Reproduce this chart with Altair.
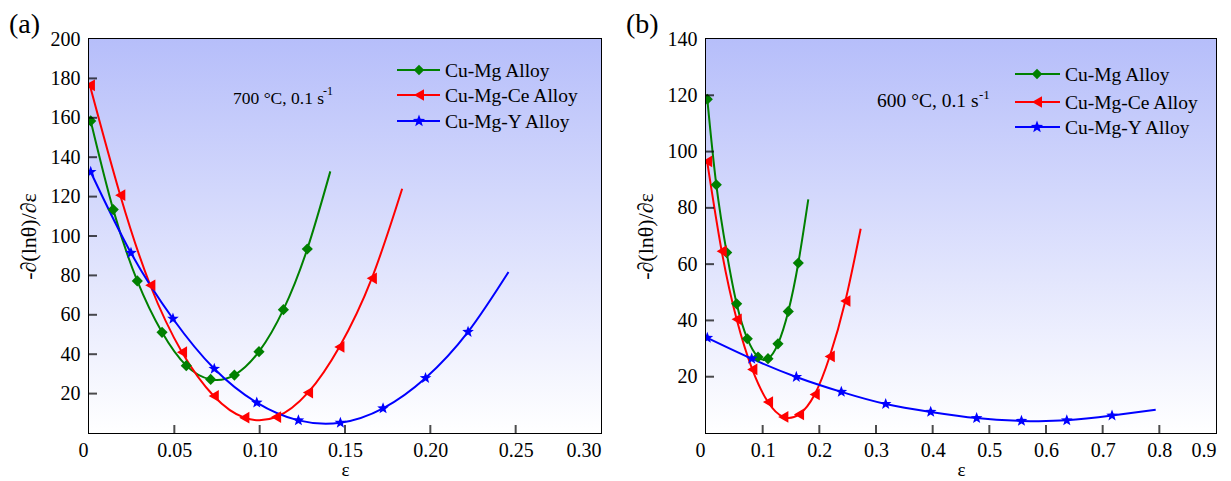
import math
import altair as alt
import pandas as pd

FONT = "Liberation Serif"
SERIES = ["Cu-Mg Alloy", "Cu-Mg-Ce Alloy", "Cu-Mg-Y Alloy"]
COLORS = ["#008000", "#ff0000", "#0000ff"]

# ---------------- panel (a): 700 °C, 0.1 s-1 ----------------
a_mg_x = [0.001, 0.0142, 0.0283, 0.0428, 0.0570, 0.0713, 0.0852, 0.0996, 0.1139, 0.1279]
a_mg_y = [158.4, 113.4, 77.2, 51.1, 34.2, 27.2, 29.4, 41.3, 62.6, 93.4]
a_mg_end = [0.1414, 132.8]
a_ce_x = [0.0005, 0.0183, 0.0359, 0.0545, 0.0731, 0.0910, 0.1096, 0.1283, 0.1467, 0.1657]
a_ce_y = [176.5, 120.7, 75.0, 41.0, 18.8, 7.8, 8.1, 20.5, 43.7, 78.5]
a_ce_end = [0.1835, 124.0]
a_y_x = [0.001, 0.0246, 0.0492, 0.0734, 0.0983, 0.1227, 0.1473, 0.1723, 0.1972, 0.2221]
a_y_y = [132.5, 91.4, 58.0, 32.6, 15.4, 6.4, 5.2, 12.5, 27.9, 51.3]
a_y_end = [0.2458, 81.7]
a_xticks = [0, 0.05, 0.10, 0.15, 0.20, 0.25, 0.30]
a_yticks = [20, 40, 60, 80, 100, 120, 140, 160, 180, 200]

# ---------------- panel (b): 600 °C, 0.1 s-1 ----------------
b_mg_x = [0.0023, 0.0182, 0.0365, 0.0541, 0.0729, 0.0918, 0.1094, 0.1270, 0.1452, 0.1629]
b_mg_y = [118.6, 88.2, 64.1, 45.9, 33.5, 27.0, 26.4, 31.7, 43.2, 60.4]
b_mg_end = [0.1805, 83.0]
b_ce_x = [0.0020, 0.0277, 0.0541, 0.0817, 0.1094, 0.1364, 0.1641, 0.1918, 0.2183, 0.2459]
b_ce_y = [96.5, 64.6, 40.4, 22.6, 11.0, 5.7, 6.6, 13.7, 27.2, 46.9]
b_ce_end = [0.2730, 72.6]
b_y_x = [0.0023, 0.0806, 0.1594, 0.2388, 0.3171, 0.3965, 0.4776, 0.5567, 0.6367, 0.7165]
b_y_y = [33.8, 26.4, 19.9, 14.6, 10.3, 7.5, 5.3, 4.3, 4.5, 6.2]
b_y_end = [0.7936, 8.3]
b_xticks = [0, 0.1, 0.2, 0.3, 0.4, 0.5, 0.6, 0.7, 0.8, 0.9]
b_yticks = [20, 40, 60, 80, 100, 120, 140]


def star_path(r_in=0.42):
    pts = []
    for k in range(10):
        r = 1.0 if k % 2 == 0 else r_in
        ang = math.radians(-90 + 36 * k)
        pts.append(f"{r * math.cos(ang):.3f},{r * math.sin(ang):.3f}")
    return "M" + "L".join(pts) + "Z"


SHAPES = ["diamond", "triangle-left", star_path()]
SIZES = [125, 150, 180]

GRAD = alt.Gradient(
    gradient="linear",
    stops=[alt.GradientStop(color="#b6befa", offset=0),
           alt.GradientStop(color="#ffffff", offset=1)],
    x1=0, x2=0, y1=0, y2=1,
)


def panel(tag, note, note_fs, sup_fs, note_pos, sup_pos, W, H, xmax, ymax,
          xfmt, xticks, yticks, series, leg):
    # series: list of (name, xs, ys, end)
    mk_rows, ln_rows = [], []
    for name, xs, ys, end in series:
        for x, y in zip(xs, ys):
            mk_rows.append({"x": x, "y": y, "s": name})
            ln_rows.append({"x": x, "y": y, "s": name})
        ln_rows.append({"x": end[0], "y": end[1], "s": name})
    mk_df = pd.DataFrame(mk_rows)
    ln_df = pd.DataFrame(ln_rows)

    xscale = alt.Scale(domain=[0, xmax], nice=False, zero=False)
    yscale = alt.Scale(domain=[0, ymax], nice=False, zero=False)
    xaxis = alt.Axis(
        values=xticks,
        labelExpr=f"datum.value == 0 ? '0' : format(datum.value, '{xfmt}')",
        labelOffset={"condition": {"test": "datum.value == 0", "value": -11}, "value": 0},
        labelPadding=7, titlePadding=0, title="ε", titleFontSize=19,
    )
    yaxis = alt.Axis(
        values=[v for v in yticks if v != 0],
        labelPadding=9, titlePadding=10, title="-∂(lnθ)/∂ε", titleFontSize=22,
    )
    X = alt.X("x:Q", scale=xscale, axis=xaxis)
    Y = alt.Y("y:Q", scale=yscale, axis=yaxis)
    col = alt.Color("s:N", scale=alt.Scale(domain=SERIES, range=COLORS), legend=None)
    shp = alt.Shape("s:N", scale=alt.Scale(domain=SERIES, range=SHAPES), legend=None)
    siz = alt.Size("s:N", scale=alt.Scale(domain=SERIES, range=SIZES), legend=None)

    one = pd.DataFrame({"d": [0]})
    layers = []
    layers.append(alt.Chart(one).mark_rect(fill=GRAD).encode(
        x=alt.value(0), x2=alt.value(W), y=alt.value(0), y2=alt.value(H)))
    layers.append(alt.Chart(ln_df).mark_line(interpolate="natural", strokeWidth=2, clip=True)
                  .encode(x=X, y=Y, color=col, detail="s:N"))
    layers.append(alt.Chart(mk_df).mark_point(filled=True, opacity=1, clip=True)
                  .encode(x=X, y=Y, color=col, shape=shp, size=siz))
    # inward ticks
    xt = pd.DataFrame({"x": [v for v in xticks if 0 < v < xmax]})
    yt = pd.DataFrame({"y": [v for v in yticks if 0 < v < ymax]})
    layers.append(alt.Chart(xt).mark_tick(orient="vertical", size=8, thickness=2, color="black")
                  .encode(x=X, y=alt.value(H - 4)))
    layers.append(alt.Chart(yt).mark_tick(orient="horizontal", size=8, thickness=2, color="black")
                  .encode(y=Y, x=alt.value(4)))
    # legend
    lx0, lx1, lxm, lxt, rows = leg
    for i, name in enumerate(SERIES):
        ly = rows[i]
        layers.append(alt.Chart(one).mark_rule(color=COLORS[i], strokeWidth=2.2).encode(
            x=alt.value(lx0), x2=alt.value(lx1), y=alt.value(ly)))
        layers.append(alt.Chart(one).mark_point(shape=SHAPES[i], filled=True, size=SIZES[i] - 15,
                                                color=COLORS[i], opacity=1).encode(
            x=alt.value(lxm), y=alt.value(ly)))
        layers.append(alt.Chart(pd.DataFrame({"t": [name]})).mark_text(
            align="left", baseline="middle", font=FONT, fontSize=19.5, color="black").encode(
            text="t:N", x=alt.value(lxt), y=alt.value(ly + 1)))
    # condition note
    layers.append(alt.Chart(pd.DataFrame({"t": [note]})).mark_text(
        align="left", baseline="alphabetic", font=FONT, fontSize=note_fs, color="black").encode(
        text="t:N", x=alt.value(note_pos[0]), y=alt.value(note_pos[1])))
    layers.append(alt.Chart(pd.DataFrame({"t": ["-1"]})).mark_text(
        align="left", baseline="alphabetic", font=FONT, fontSize=sup_fs, color="black").encode(
        text="t:N", x=alt.value(sup_pos[0]), y=alt.value(sup_pos[1])))
    # panel tag
    layers.append(alt.Chart(pd.DataFrame({"t": [tag]})).mark_text(
        align="left", baseline="alphabetic", font=FONT, fontSize=28, color="black").encode(
        text="t:N", x=alt.value(-80), y=alt.value(-6)))
    return alt.layer(*layers).properties(width=W, height=H)


pa = panel("(a)", "700 °C, 0.1 s", 17.5, 12, (144, 65), (234, 56), 512, 394, 0.30, 200, ".2f",
           a_xticks, a_yticks,
           [(SERIES[0], a_mg_x, a_mg_y, a_mg_end),
            (SERIES[1], a_ce_x, a_ce_y, a_ce_end),
            (SERIES[2], a_y_x, a_y_y, a_y_end)],
           (308, 351, 330, 356, [31, 56, 82]))
pb = panel("(b)", "600 °C, 0.1 s", 19.5, 13, (171, 68), (273, 60), 510, 394, 0.9, 140, ".1f",
           b_xticks, b_yticks,
           [(SERIES[0], b_mg_x, b_mg_y, b_mg_end),
            (SERIES[1], b_ce_x, b_ce_y, b_ce_end),
            (SERIES[2], b_y_x, b_y_y, b_y_end)],
           (309, 354, 331, 359, [35, 63, 88]))

chart = (
    alt.hconcat(pa, pb, spacing=23)
    .properties(padding={"top": 2, "left": 0, "right": 0, "bottom": 0})
    .configure_view(stroke="black", strokeWidth=2)
    .configure_axis(labelFont=FONT, titleFont=FONT, labelFontSize=20, labelColor="black",
                    titleColor="black", titleFontWeight="normal", domain=False, ticks=False,
                    grid=False)
)

chart.save("out.html", embed_options={"renderer": "svg", "actions": False})
